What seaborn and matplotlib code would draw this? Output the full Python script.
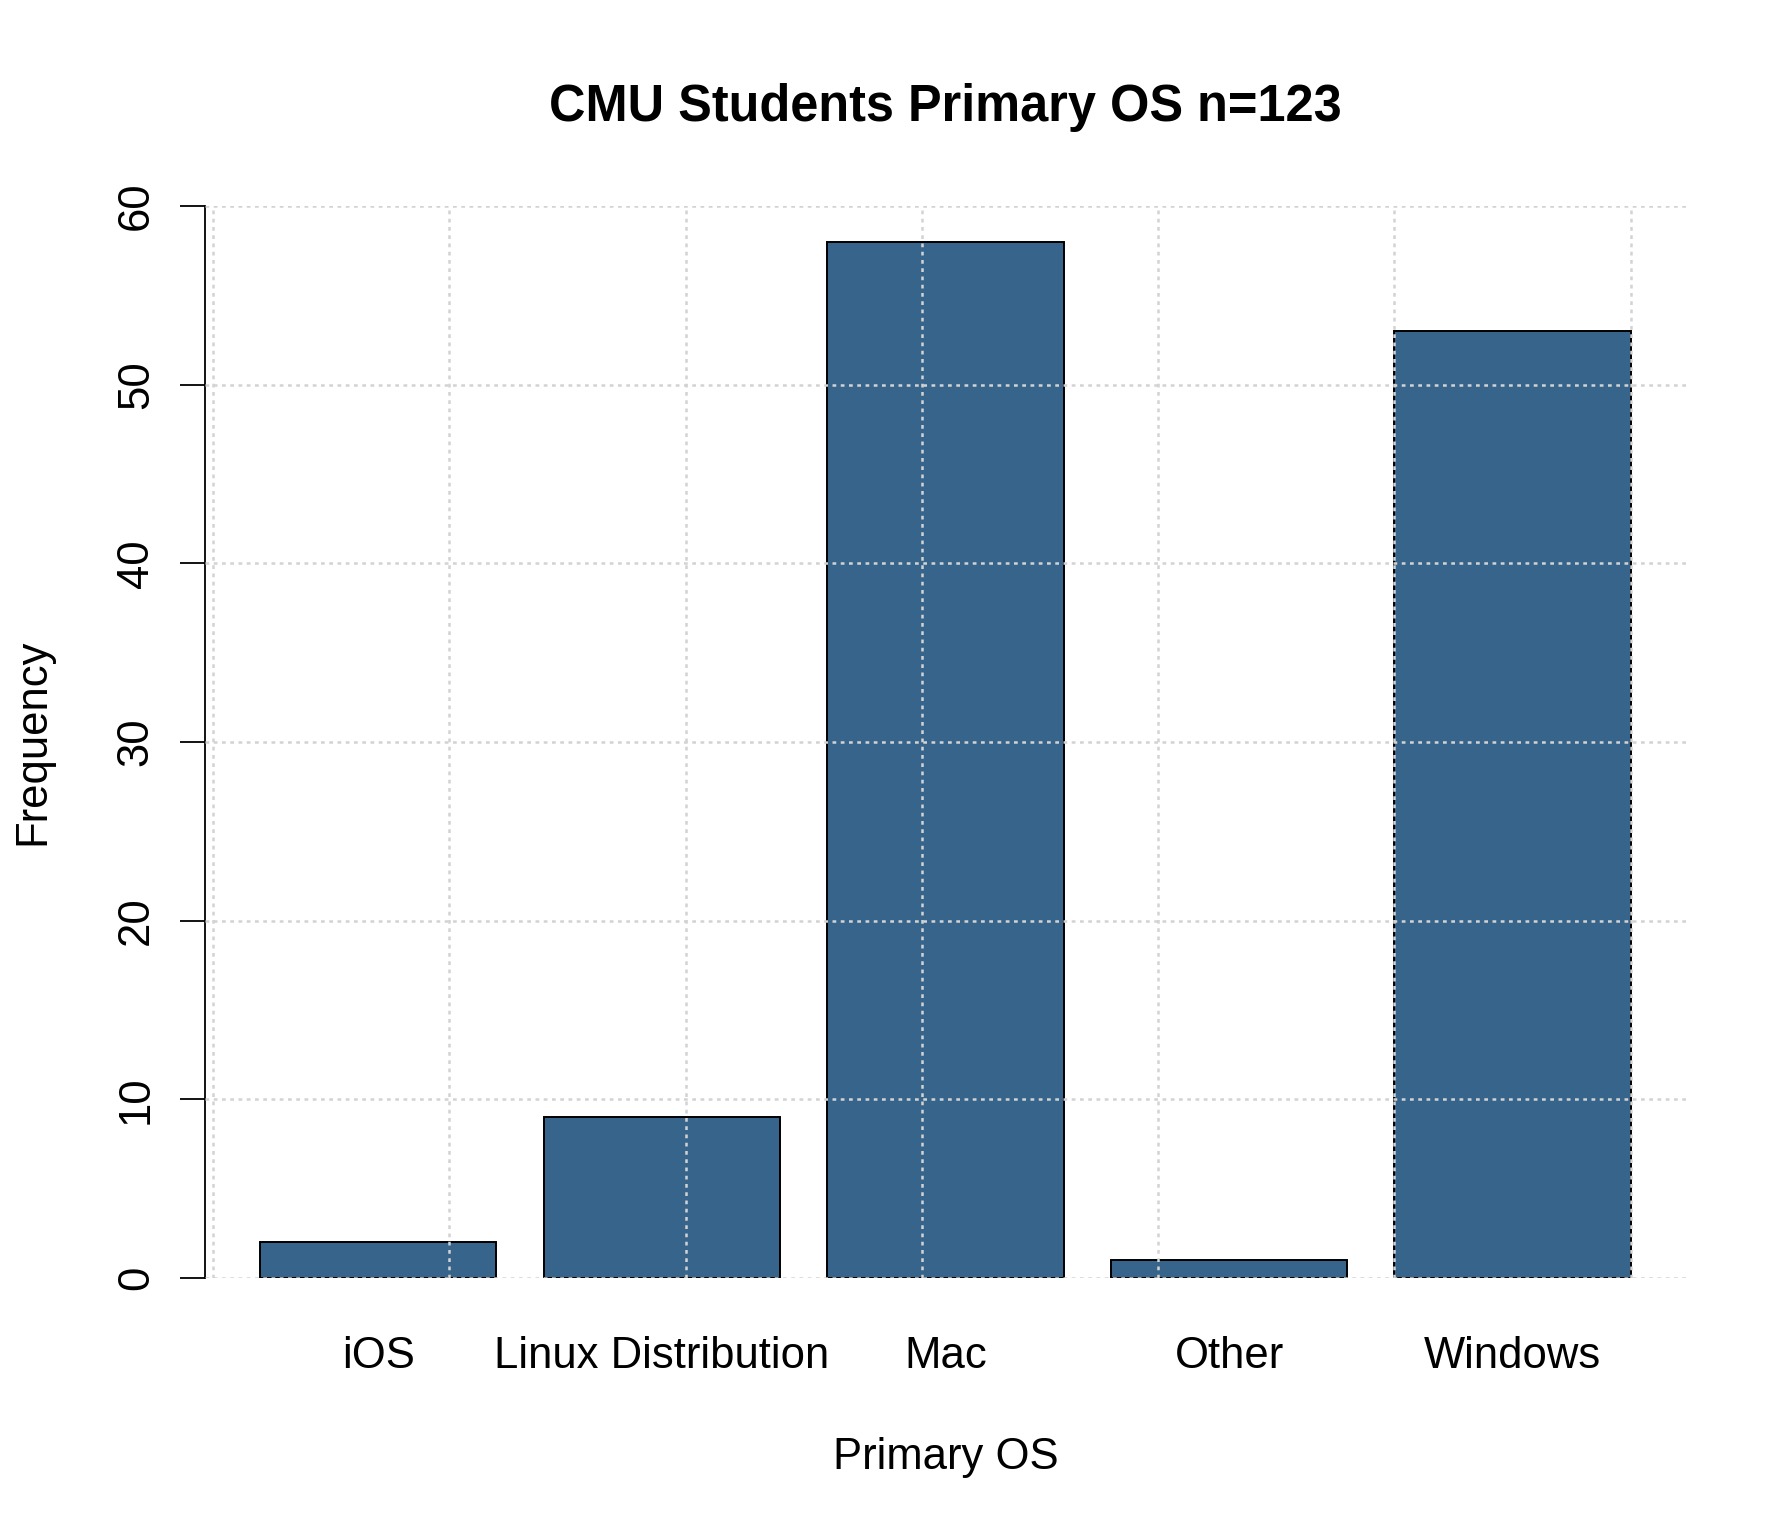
import matplotlib
matplotlib.use("Agg")
import matplotlib.pyplot as plt
import seaborn as sns
import numpy as np

# ===================== data =====================
os_names = ["iOS", "Linux Distribution", "Mac", "Other", "Windows"]
counts = [2, 9, 58, 1, 53]
y_ticks = [0, 10, 20, 30, 40, 50, 60]

# ===================== style =====================
sns.set_theme(style="white")
plt.rcParams['font.family'] = ['Liberation Sans', 'DejaVu Sans']
plt.rcParams['text.color'] = 'black'
plt.rcParams['axes.labelcolor'] = 'black'
plt.rcParams['xtick.color'] = 'black'
plt.rcParams['ytick.color'] = 'black'

fig = plt.figure(figsize=(17.92, 15.36), dpi=100)
# plot region: y 0..60 fills it exactly, x runs R-style from -0.032 to 6.232
ax = fig.add_axes([0.1146, 0.1680, 0.8260, 0.6979])

# R barplot geometry: bar width 1, space 0.2 -> one R unit = 1.2 category steps
bar_w = 1 / 1.2
sns.barplot(x=os_names, y=counts, order=os_names, color="#36648B",
            saturation=1, edgecolor="black", linewidth=1.4, width=bar_w, ax=ax)

# grid like R's grid(): vertical lines at R x = 0..6, dotted lightgray over the bars
r_grid = (np.arange(7) - 0.7) / 1.2
ax.set_xticks(r_grid, minor=True)
ax.set_axisbelow(False)
grid_kw = dict(color='#D3D3D3', linestyle=(0, (1.5, 1.8)), linewidth=1.8)
ax.grid(True, axis='y', which='major', **grid_kw)
ax.grid(True, axis='x', which='minor', **grid_kw)
ax.grid(False, axis='x', which='major')

ax.set_xlim((-0.032 - 0.7) / 1.2, (6.232 - 0.7) / 1.2)
ax.set_ylim(0, 60)
ax.set_yticks(y_ticks)
ax.set_yticklabels([str(v) for v in y_ticks], rotation=90, va='center')

for side in ['top', 'right', 'bottom']:
    ax.spines[side].set_visible(False)
ax.spines['left'].set_linewidth(1.3)
ax.spines['left'].set_color('black')

ax.tick_params(axis='y', which='major', direction='out', length=18, width=1.3,
               color='black', labelsize=31.4, pad=17, left=True)
ax.tick_params(axis='x', which='major', length=0, labelsize=31.4, pad=42)
ax.tick_params(axis='x', which='minor', length=0)

ax.set_xlabel("Primary OS", fontsize=31.4)
ax.set_ylabel("Frequency", fontsize=31.4)
ax.xaxis.set_label_coords(0.5, -0.148)
ax.yaxis.set_label_coords(-0.103, 0.5)

ax.set_title("CMU Students Primary OS n=123", fontsize=36.4, fontweight='bold', pad=61)

plt.savefig("out.png", dpi=100)
